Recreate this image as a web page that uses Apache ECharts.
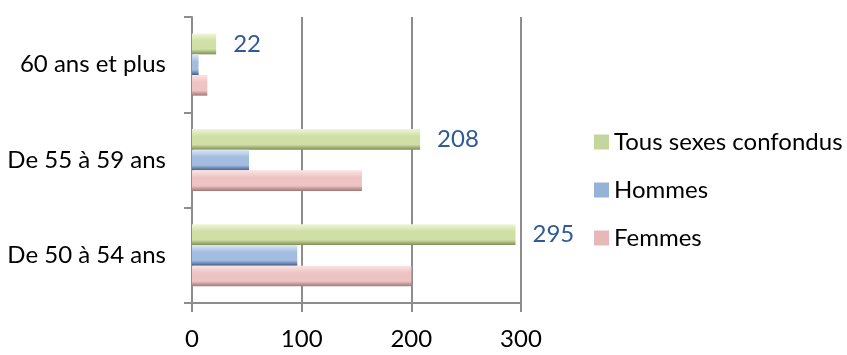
<!DOCTYPE html>
<html>
<head>
<meta charset="utf-8">
<script src="https://cdn.jsdelivr.net/npm/echarts@6/dist/echarts.min.js"></script>
<style>
  html, body { margin: 0; padding: 0; background: #ffffff; }
  #chart { width: 847px; height: 355px; }
</style>
</head>
<body>
<div id="chart"></div>
<script>
// Age groups, bottom to top
const categories = ['De 50 à 54 ans', 'De 55 à 59 ans', '60 ans et plus'];
const tous = [295, 208, 22];
const hommes = [96, 52, 6];
const femmes = [200, 155, 14];
const xTicks = [0, 100, 200, 300];

const FONT = 'Lato';

// Cylinder-like shading across the thickness of each bar
function shade(light, base, dark) {
  return new echarts.graphic.LinearGradient(0, 0, 0, 1, [
    { offset: 0, color: light },
    { offset: 0.35, color: base },
    { offset: 0.75, color: base },
    { offset: 1, color: dark }
  ]);
}

const chart = echarts.init(document.getElementById('chart'), null, { renderer: 'canvas' });

chart.setOption({
  animation: false,
  backgroundColor: '#ffffff',
  textStyle: { fontFamily: FONT },
  grid: { left: 192, top: 17, width: 329, height: 286, containLabel: false },
  legend: {
    orient: 'vertical',
    left: 589,
    top: 125,
    itemWidth: 15,
    itemHeight: 15,
    itemGap: 24,
    icon: 'rect',
    data: [
      { name: 'Tous sexes confondus', itemStyle: { color: '#c3d69b' } },
      { name: 'Hommes', itemStyle: { color: '#95b3d7' } },
      { name: 'Femmes', itemStyle: { color: '#e6b9b8' } }
    ],
    textStyle: { fontFamily: FONT, fontSize: 24, lineHeight: 24, color: '#000000' }
  },
  xAxis: {
    type: 'value',
    min: 0,
    max: 300,
    interval: 100,
    axisLine: { show: true, lineStyle: { color: '#8d8d8d', width: 2 } },
    axisTick: { show: true, length: 9, lineStyle: { color: '#8d8d8d', width: 2 } },
    splitLine: { show: true, lineStyle: { color: '#8d8d8d', width: 2 } },
    axisLabel: {
      margin: 24,
      fontFamily: FONT,
      fontSize: 24,
      color: '#000000',
      formatter: function (v) { return xTicks.indexOf(v) >= 0 ? String(v) : ''; }
    }
  },
  yAxis: {
    type: 'category',
    data: categories,
    axisLine: { show: true, lineStyle: { color: '#8d8d8d', width: 2 } },
    axisTick: { show: true, length: 8, lineStyle: { color: '#8d8d8d', width: 2 } },
    axisLabel: { margin: 26, fontFamily: FONT, fontSize: 24, color: '#000000' }
  },
  series: [
    {
      name: 'Tous sexes confondus',
      type: 'bar',
      data: tous,
      barGap: '0%',
      barCategoryGap: '35%',
      itemStyle: { color: shade('#eef5d4', '#cfdfa6', '#7f8f55') },
      label: {
        show: true,
        position: 'right',
        distance: 17,
        fontFamily: FONT,
        fontSize: 24,
        color: '#2f5a94',
        formatter: function (p) { return String(p.value); }
      }
    },
    {
      name: 'Hommes',
      type: 'bar',
      data: hommes,
      barGap: '0%',
      barCategoryGap: '35%',
      itemStyle: { color: shade('#dbe7f5', '#a3bde0', '#3f5f8a') }
    },
    {
      name: 'Femmes',
      type: 'bar',
      data: femmes,
      barGap: '0%',
      barCategoryGap: '35%',
      itemStyle: { color: shade('#fbe3e3', '#eec3c3', '#9f7777') }
    }
  ]
});
</script>
</body>
</html>
